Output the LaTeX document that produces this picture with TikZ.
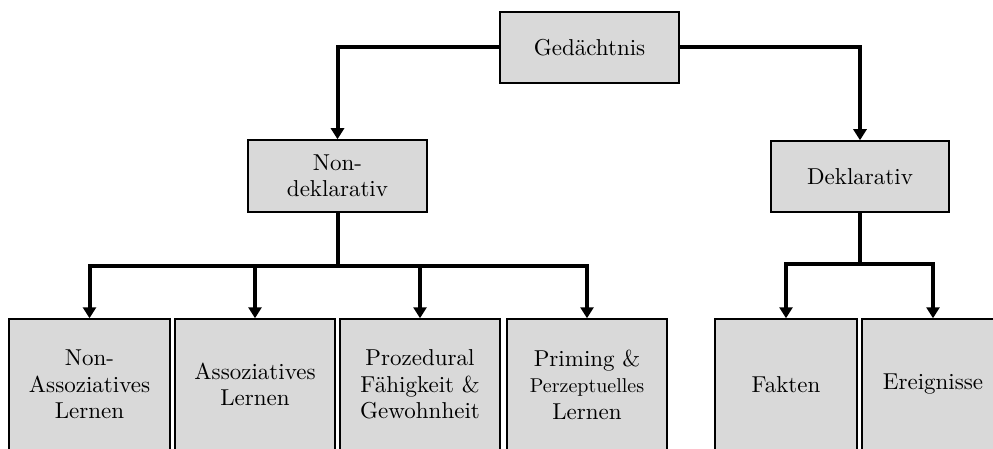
\documentclass[tikz,border=0pt]{standalone}
\usepackage{fontspec}
\setmainfont{lmroman10-regular.otf}
\usetikzlibrary{arrows.meta}
\definecolor{boxgray}{HTML}{D9D9D9}
\begin{document}
\begin{tikzpicture}[x=1pt,y=1pt,
  box/.style={draw=black, fill=boxgray, line width=1.5pt, rectangle, inner sep=0pt,
    align=center, font=\fontsize{23}{26.5}\selectfont},
  conn/.style={line width=4pt},
  arr/.style={line width=4pt, -{Triangle[length=11pt,width=13pt]}}]
\useasboundingbox (0,0) rectangle (993,-449);
\clip (0,0) rectangle (993,-449);
\node[box, minimum width=179pt, minimum height=71pt] (ged) at (589.5,-47.5) {Gedächtnis};
\node[box, minimum width=179pt, minimum height=72pt] (nd) at (337.5,-176) {Non-\\deklarativ};
\node[box, minimum width=178pt, minimum height=71pt] (dk) at (860,-176.5) {Deklarativ};
\node[box, minimum width=161pt, minimum height=131pt] (b1) at (89.5,-384.5) {Non-\\Assoziatives\\Lernen};
\node[box, minimum width=160pt, minimum height=131pt] (b2) at (255,-384.5) {Assoziatives\\Lernen};
\node[box, minimum width=160pt, minimum height=131pt] (b3) at (420,-384.5) {Prozedural\\Fähigkeit \&\\Gewohnheit};
\node[box, minimum width=160pt, minimum height=131pt] (b4) at (587,-384.5) {Priming \&\\{\fontsize{20}{26.5}\selectfont Perzeptuelles}\\Lernen};
\node[box, minimum width=142pt, minimum height=131pt] (f1) at (786,-384.5) {Fakten};
\node[box, minimum width=142pt, minimum height=131pt] (f2) at (933,-384.5) {Ereignisse};
\draw[arr] (ged.west) -| (nd.north);
\draw[arr] (ged.east) -| (dk.north);
\coordinate (nbar) at (337.5,-266);
\coordinate (dbar) at (860,-264);
\draw[conn] (nd.south) -- (nbar);
\draw[arr] (nbar) -| (b1.north);
\draw[arr] (nbar) -| (b2.north);
\draw[arr] (nbar) -| (b3.north);
\draw[arr] (nbar) -| (b4.north);
\draw[conn] (dk.south) -- (dbar);
\draw[arr] (dbar) -| (f1.north);
\draw[arr] (dbar) -| (f2.north);
\end{tikzpicture}
\end{document}
